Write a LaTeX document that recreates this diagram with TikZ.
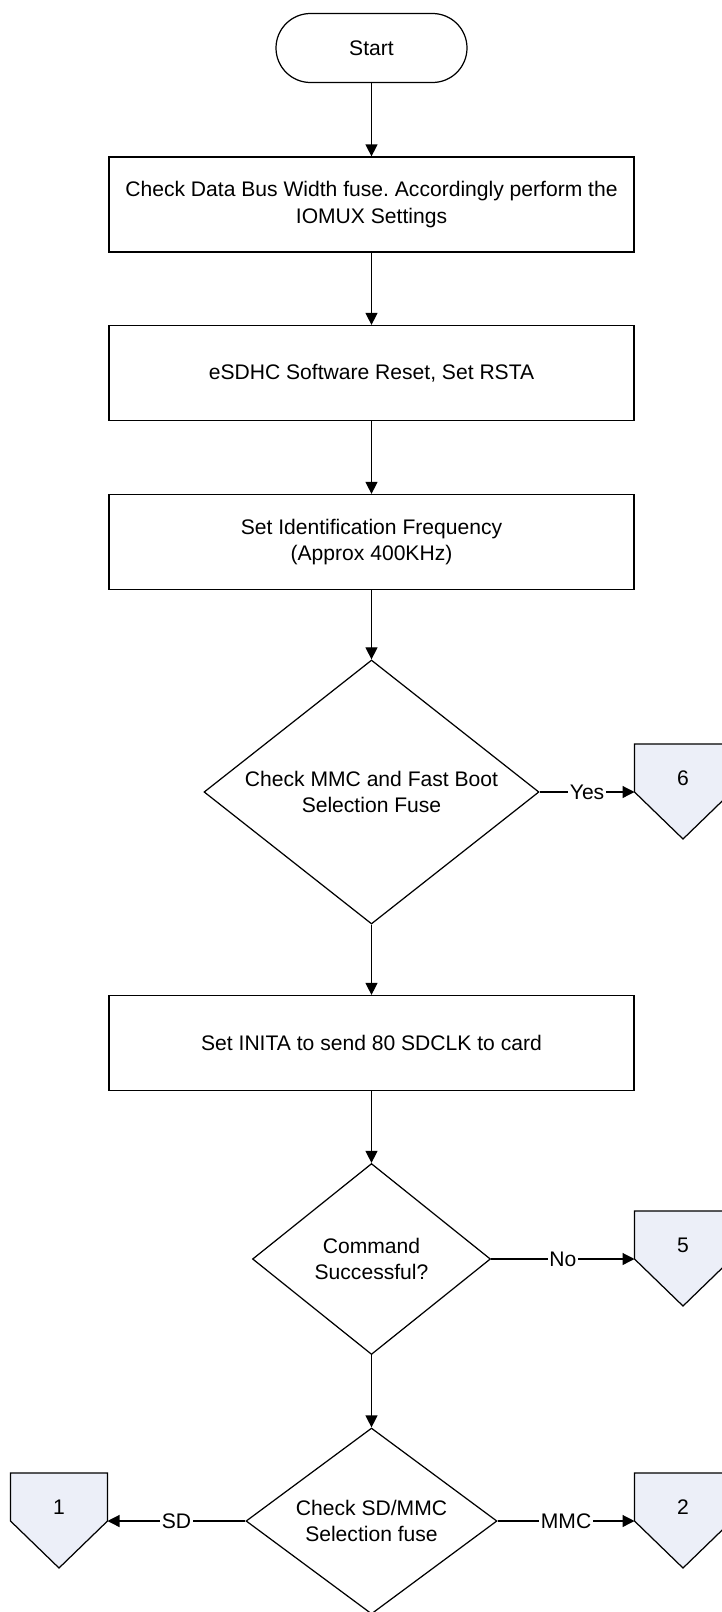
\documentclass[tikz,border=0pt]{standalone}
\usepackage{fontspec}
\setmainfont{Liberation Sans}
\usetikzlibrary{shapes.geometric,arrows.meta,positioning}
\definecolor{offpagefill}{RGB}{236,239,248}
\frenchspacing

% off-page connector: name, x, y of the side corners, label
\newcommand{\offpage}[4]{%
    \begin{scope}[shift={(#2,#3)}]
        \filldraw[offpage] (-0.97,0) -- (-0.97,0.96) -- (0.97,0.96) -- (0.97,0) -- (0,-0.94) -- cycle;
        \node[plain] (#1) at (0,0.28) {#4};
        \coordinate (#1-w) at (-0.97,0);
        \coordinate (#1-e) at (0.97,0);
    \end{scope}}

\begin{document}
\begin{tikzpicture}[
    font=\fontsize{12}{15.2}\selectfont,
    line width=0.7pt,
    plain/.style={inner sep=0pt},
    term/.style={draw, rounded corners=0.69cm, minimum width=3.82cm, minimum height=1.38cm},
    proc/.style={draw, align=center, minimum width=10.5cm, minimum height=1.9cm},
    decide/.style={draw, diamond, align=center, inner sep=0pt, shape aspect=1.3},
    offpage/.style={draw=black, fill=offpagefill},
    arr/.style={-{Triangle[length=0.24cm, width=0.24cm]}},
    edgelbl/.style={fill=white, inner sep=1pt}]
    \useasboundingbox (0,0) rectangle (14.44,-32.24);

    \node[term] (start) at (7.43,-0.96) {Start};
    \node[proc] (iomux) at (7.43,-4.09) {Check Data Bus Width fuse. Accordingly perform the\\IOMUX Settings};
    \node[proc] (reset) at (7.43,-7.46) {eSDHC Software Reset, Set RSTA};
    \node[proc] (idfreq) at (7.43,-10.84) {Set Identification Frequency\\(Approx 400KHz)};
    \node[decide, minimum width=6.7cm, minimum height=5.28cm] (fastboot) at (7.43,-15.84) {Check MMC and Fast Boot\\Selection Fuse};
    \node[proc] (inita) at (7.43,-20.86) {Set INITA to send 80 SDCLK to card};
    \node[decide, minimum width=4.76cm, minimum height=3.82cm] (cmdok) at (7.43,-25.18) {Command\\Successful?};
    \node[decide, minimum width=5.02cm, minimum height=3.72cm] (sdmmc) at (7.43,-30.42) {Check SD/MMC\\Selection fuse};

    \offpage{off6}{13.66}{-15.84}{6}
    \offpage{off5}{13.66}{-25.18}{5}
    \offpage{off2}{13.66}{-30.42}{2}
    \offpage{off1}{1.18}{-30.42}{1}

    \draw[arr] (start) -- (iomux);
    \draw[arr] (iomux) -- (reset);
    \draw[arr] (reset) -- (idfreq);
    \draw[arr] (idfreq) -- (fastboot);
    \draw[arr] (fastboot) -- (inita);
    \draw[arr] (inita) -- (cmdok);
    \draw[arr] (cmdok) -- (sdmmc);

    \draw[arr] (fastboot.east) -- node[edgelbl] {Yes} (off6-w);
    \draw[arr] (cmdok.east) -- node[edgelbl] {No} (off5-w);
    \draw[arr] (sdmmc.east) -- node[edgelbl] {MMC} (off2-w);
    \draw[arr] (sdmmc.west) -- node[edgelbl] {SD} (off1-e);
\end{tikzpicture}
\end{document}
